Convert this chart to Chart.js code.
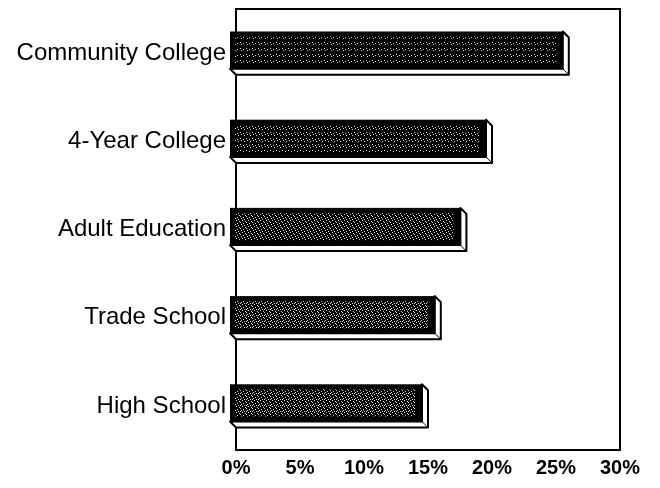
<!DOCTYPE html>
<html>
<head>
<meta charset="utf-8">
<script src="https://cdn.jsdelivr.net/npm/chart.js@4.4.1/dist/chart.umd.min.js"></script>
<style>
html,body{margin:0;padding:0;background:#fff;}
#wrap{width:660px;height:488px;}
</style>
</head>
<body>
<div id="wrap"><canvas id="c" width="660" height="488"></canvas></div>
<script>
const categories = ['Community College', '4-Year College', 'Adult Education', 'Trade School', 'High School'];
const values = [26, 20, 18, 16, 15];
const tickValues = [0, 5, 10, 15, 20, 25, 30];
const speckleDensity = [0.25, 0.35, 0.5, 0.6, 0.55];

function makePattern(ctx, density) {
  const t = document.createElement('canvas');
  t.width = 6; t.height = 6;
  const g = t.getContext('2d');
  g.fillStyle = '#000';
  g.fillRect(0, 0, 6, 6);
  const pts = [[0,0],[3,1],[1,2],[4,3],[2,4],[5,5],[0,3],[3,5],[5,2],[2,1],[4,0],[1,5]];
  const n = Math.round(pts.length * density);
  g.fillStyle = '#d8d8d8';
  for (let i = 0; i < n; i++) g.fillRect(pts[i][0], pts[i][1], 1, 1);
  return ctx.createPattern(t, 'repeat');
}

const boxPlugin = {
  id: 'box',
  beforeDatasetsDraw(chart) {
    const { ctx, chartArea: a } = chart;
    ctx.save();
    ctx.strokeStyle = '#000';
    ctx.lineWidth = 2;
    ctx.strokeRect(a.left, a.top, a.right - a.left, a.bottom - a.top);
    ctx.restore();
  }
};

const bar3dPlugin = {
  id: 'bar3d',
  afterDatasetsDraw(chart) {
    const { ctx } = chart;
    const meta = chart.getDatasetMeta(0);
    const d = 6;
    meta.data.forEach((el, i) => {
      const p = el.getProps(['x', 'y', 'base', 'height'], true);
      const top = p.y - p.height / 2, bottom = p.y + p.height / 2;
      const fl = p.base - d, fr = p.x - d, ft = top, fb = bottom - d;
      ctx.save();
      ctx.lineJoin = 'round';
      ctx.beginPath();
      ctx.moveTo(fl, fb);
      ctx.lineTo(fr, fb);
      ctx.lineTo(fr, ft);
      ctx.lineTo(p.x, ft + d);
      ctx.lineTo(p.x, bottom);
      ctx.lineTo(p.base, bottom);
      ctx.closePath();
      ctx.fillStyle = '#fff';
      ctx.fill();
      ctx.strokeStyle = '#000';
      ctx.lineWidth = 2;
      ctx.stroke();
      ctx.beginPath();
      ctx.moveTo(fr, fb);
      ctx.lineTo(p.x, bottom);
      ctx.lineWidth = 1;
      ctx.stroke();
      ctx.fillStyle = '#000';
      ctx.fillRect(fl, ft, fr - fl, fb - ft);
      ctx.fillStyle = makePattern(ctx, speckleDensity[i]);
      ctx.fillRect(fl + 5, ft + 5, fr - fl - 12, fb - ft - 10);
      ctx.restore();
    });
  }
};

new Chart(document.getElementById('c'), {
  type: 'bar',
  data: {
    labels: categories,
    datasets: [{
      data: values,
      backgroundColor: 'rgba(0,0,0,0)',
      borderWidth: 0,
      categoryPercentage: 1,
      barPercentage: 0.49
    }]
  },
  options: {
    indexAxis: 'y',
    responsive: false,
    animation: false,
    layout: { padding: { top: 9, right: 40, left: 0, bottom: 0 } },
    plugins: { legend: { display: false }, tooltip: { enabled: false } },
    scales: {
      x: {
        min: 0, max: 30,
        afterBuildTicks: s => { s.ticks = tickValues.map(v => ({ value: v })); },
        afterFit: s => { s.height = 38; },
        grid: { display: false, drawTicks: false },
        border: { display: false },
        ticks: {
          padding: 6,
          color: '#000',
          font: { family: 'Liberation Sans, Arial, sans-serif', size: 20, weight: 'bold' },
          callback: v => v + '%',
          maxRotation: 0
        }
      },
      y: {
        afterFit: s => { s.width = 236; s.paddingTop = 0; s.paddingBottom = 0; },
        grid: { display: false, drawTicks: false },
        border: { display: false },
        ticks: {
          padding: 10,
          color: '#000',
          font: { family: 'Liberation Sans, Arial, sans-serif', size: 24 }
        }
      }
    }
  },
  plugins: [boxPlugin, bar3dPlugin]
});
</script>
</body>
</html>
